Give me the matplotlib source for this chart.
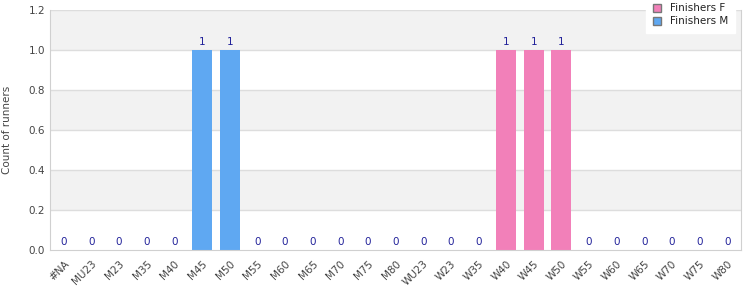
import numpy as np
import matplotlib
matplotlib.use('Agg')
import matplotlib.pyplot as plt
from matplotlib.patches import Patch

# categories along the x axis
categories = ['#NA', 'MU23', 'M23', 'M35', 'M40', 'M45', 'M50', 'M55', 'M60',
              'M65', 'M70', 'M75', 'M80', 'WU23', 'W23', 'W35', 'W40', 'W45',
              'W50', 'W55', 'W60', 'W65', 'W70', 'W75', 'W80']
finishers_f = [0, 0, 0, 0, 0, 0, 0, 0, 0, 0, 0, 0, 0, 0, 0, 0, 1, 1, 1, 0, 0, 0, 0, 0, 0]
finishers_m = [0, 0, 0, 0, 0, 1, 1, 0, 0, 0, 0, 0, 0, 0, 0, 0, 0, 0, 0, 0, 0, 0, 0, 0, 0]

col_f = '#f280b9'
col_m = '#5fa8f2'
text_col = '#444444'
lbl_col = '#22229a'

fig = plt.figure(figsize=(7.5, 3), dpi=100)
ax = fig.add_axes([50 / 750, 50 / 300, 691 / 750, 240 / 300])

x = np.arange(len(categories))
f = np.array(finishers_f)
m = np.array(finishers_m)

# alternating background bands
for i, lo in enumerate(np.arange(0, 1.2, 0.2)):
    if i % 2 == 1:
        ax.axhspan(lo, lo + 0.2, color='#f2f2f2', zorder=0, lw=0)
for yv in np.arange(0.2, 1.21, 0.2):
    ax.axhline(yv, color='#dddddd', lw=1, zorder=1)

ax.bar(x, f, width=0.72, color=col_f, zorder=2)
ax.bar(x, m, width=0.72, bottom=f, color=col_m, zorder=2)

total = f + m
for xi, t in zip(x, total):
    ax.annotate(str(int(t)), (xi, t), xytext=(0, 2), textcoords='offset points',
                ha='center', va='bottom', fontsize=7.5, color=lbl_col, zorder=3)

ax.set_xlim(-0.5, len(categories) - 0.5)
ax.set_ylim(0, 1.2)
ax.set_yticks(np.arange(0, 1.21, 0.2))
ax.set_yticklabels(['%.1f' % v for v in np.arange(0, 1.21, 0.2)])
ax.set_xticks(x)
ax.set_xticklabels(categories, rotation=45, ha='right', rotation_mode='anchor')
ax.tick_params(axis='both', length=0, labelsize=7.5, colors=text_col)
ax.tick_params(axis='x', pad=6)
ax.set_ylabel('Count of runners', fontsize=7.5, color=text_col, labelpad=12)

for s in ['left', 'bottom', 'right']:
    ax.spines[s].set_color('#d0d0d0')
ax.spines['top'].set_visible(False)

handles = [Patch(facecolor=col_f, edgecolor='#777777', label='Finishers F'),
           Patch(facecolor=col_m, edgecolor='#777777', label='Finishers M')]
leg = ax.legend(handles=handles, loc='upper right', bbox_to_anchor=(0.988, 1.045),
                frameon=True, fontsize=7.5, handlelength=0.8, handleheight=0.8,
                handletextpad=0.9, borderaxespad=0, labelspacing=0.3)
leg.get_frame().set_facecolor('white')
leg.get_frame().set_edgecolor('white')
leg.get_frame().set_alpha(1)
leg.get_frame().set_boxstyle('square', pad=0.2)
for t in leg.get_texts():
    t.set_color('#222222')

fig.savefig('out.png', dpi=100)
